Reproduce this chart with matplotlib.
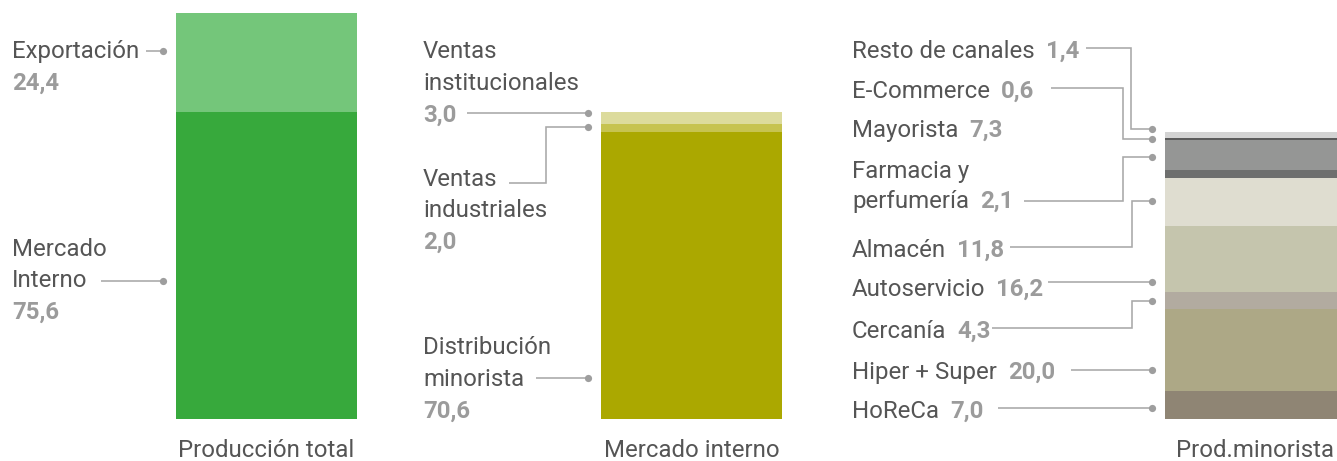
import matplotlib
matplotlib.use("Agg")
import matplotlib.pyplot as plt

# ---------------- data ----------------
bar_names = ["Producción total", "Mercado interno", "Prod.minorista"]

prod_labels = ["Mercado\nInterno", "Exportación"]
prod_values = [75.6, 24.4]

mi_labels = ["Distribución\nminorista", "Ventas\nindustriales", "Ventas\ninstitucionales"]
mi_values = [70.6, 2.0, 3.0]

min_labels = ["HoReCa", "Hiper + Super", "Cercanía", "Autoservicio", "Almacén",
              "Farmacia y\nperfumería", "Mayorista", "E-Commerce", "Resto de canales"]
min_values = [7.0, 20.0, 4.3, 16.2, 11.8, 2.1, 7.3, 0.6, 1.4]

# ---------------- style ----------------
prod_colors = ["#37a93c", "#74c67a"]
mi_colors = ["#aba800", "#c6c350", "#dcdb9c"]
min_colors = ["#8f8574", "#ada886", "#b2aba0", "#c5c5ad", "#dfddd0",
              "#6e6f6e", "#959695", "#5b5b5b", "#d3d3d3"]

FONT = "Roboto"
FS = 17.3
TXT = "#555555"
VAL = "#9b9b9b"
LINE = "#a8a8a8"

W, H = 1337, 461
BASE_PX = 419          # pixel row of value 0
PX_PER_UNIT = 4.06     # pixels per percentage point


def py(y):
    return (BASE_PX - y) / PX_PER_UNIT


fig = plt.figure(figsize=(W / 100, H / 100), dpi=100)
ax = fig.add_axes([0, 0, 1, 1])
ax.set_xlim(0, W)
ax.set_ylim(py(H), py(0))
ax.axis("off")

bar_x = [266.5, 691.5, 1255.5]
bar_w = 181


def stack(x, values, colors):
    bottom = 0
    for v, c in zip(values, colors):
        ax.bar(x, v, bottom=bottom, width=bar_w, color=c, linewidth=0)
        bottom += v


stack(bar_x[0], prod_values, prod_colors)
stack(bar_x[1], mi_values, mi_colors)
stack(bar_x[2], min_values, min_colors)

for x, name in zip(bar_x, bar_names):
    ax.text(x, py(457), name, ha="center", va="baseline", fontsize=FS,
            family=FONT, color=TXT)


def fmt(v):
    return f"{v:.1f}".replace(".", ",")


def stacked_label(x, first_baseline, label, value, step=31.8):
    lines = label.split("\n")
    for i, ln in enumerate(lines):
        ax.text(x, py(first_baseline + i * step), ln, va="baseline",
                fontsize=FS, family=FONT, color=TXT)
    ax.text(x, py(first_baseline + len(lines) * step), fmt(value),
            va="baseline", fontsize=FS, family=FONT, color=VAL,
            fontweight="bold")


def leader(pts):
    xs = [p[0] for p in pts]
    ys = [py(p[1]) for p in pts]
    ax.plot(xs, ys, color=LINE, lw=1.15, solid_capstyle="butt",
            solid_joinstyle="miter")
    ax.plot(xs[-1], ys[-1], "o", color="#9e9e9e", ms=5.2, mec="none")


# panel 1
stacked_label(12, 58, prod_labels[1], prod_values[1])
stacked_label(12, 255.5, prod_labels[0], prod_values[0])
leader([(146, 51), (163, 51)])
leader([(101, 281), (163, 281)])

# panel 2
stacked_label(423, 58, mi_labels[2], mi_values[2])
stacked_label(423, 185.5, mi_labels[1], mi_values[1])
stacked_label(423, 354, mi_labels[0], mi_values[0])
leader([(467, 113), (588, 113)])
leader([(509, 183), (546, 183), (546, 127), (588, 127)])
leader([(536, 378), (588, 378)])

# panel 3
fig.canvas.draw()
renderer = fig.canvas.get_renderer()
baselines3 = [418, 379, 338, 296, 257, 178, 137, 98, 58]
for lab, val, bl in zip(min_labels, min_values, baselines3):
    lines = lab.split("\n")
    t = None
    for i, ln in enumerate(lines):
        t = ax.text(852, py(bl + i * 30), ln, va="baseline", fontsize=FS,
                    family=FONT, color=TXT)
    ext = t.get_window_extent(renderer)
    ax.text(ext.x1 + 11, py(bl + (len(lines) - 1) * 30), fmt(val),
            va="baseline", fontsize=FS, family=FONT, color=VAL,
            fontweight="bold")

leader([(1086, 48), (1131, 48), (1131, 129), (1152, 129)])
leader([(1051, 88), (1123, 88), (1123, 139), (1152, 139)])
leader([(1024, 201), (1123, 201), (1123, 157), (1152, 157)])
leader([(1010, 247), (1132, 247), (1132, 201), (1152, 201)])
leader([(1048, 282), (1152, 282)])
leader([(992, 328), (1132, 328), (1132, 301), (1152, 301)])
leader([(1071, 370), (1152, 370)])
leader([(998, 408), (1152, 408)])

fig.savefig("out.png", dpi=100)
